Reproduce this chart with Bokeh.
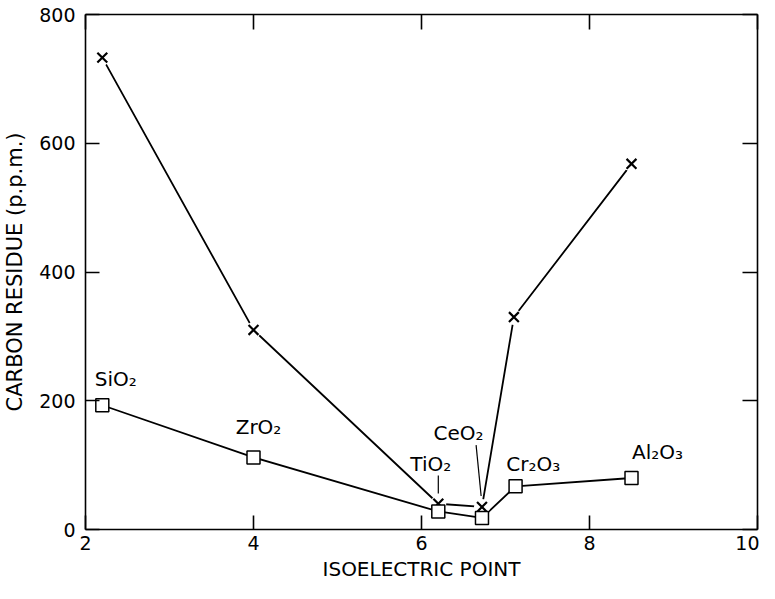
from bokeh.plotting import figure
from bokeh.models import LinearAxis, FixedTicker, Range1d, CustomJSTickFormatter
from bokeh.embed import file_html
from bokeh.resources import INLINE
from bokeh.core.properties import value

# ---- data ----
oxides = ["SiO₂", "ZrO₂", "TiO₂", "CeO₂", "Cr₂O₃", "Al₂O₃"]
iep_cross = [2.2, 4.0, 6.2, 6.72, 7.1, 8.5]
residue_cross = [733, 310, 40, 35, 330, 568]
iep_square = [2.2, 4.0, 6.2, 6.72, 7.12, 8.5]
residue_square = [193, 112, 28, 18, 67, 80]
x_ticks = [2, 4, 6, 8, 10]
y_ticks = [0, 200, 400, 600, 800]

# ---- annotation placement ----
label_x = [2.36, 4.06, 6.11, 6.44, 7.33, 8.81]
label_y = [234, 160, 102, 150, 102, 120]
leader_x0 = [6.2, 6.65]
leader_y0 = [84, 131]
leader_x1 = [6.2, 6.71]
leader_y1 = [56, 52]

FONT = "DejaVu Sans"

p = figure(width=759, height=583, output_backend="svg", toolbar_location=None,
           x_range=Range1d(2, 10), y_range=Range1d(0, 800),
           min_border_left=85, min_border_right=2, min_border_top=14, min_border_bottom=52,
           background_fill_color="white", border_fill_color="white")
p.outline_line_color = None
p.grid.visible = False

def style_axis(ax):
    ax.major_tick_in = 14
    ax.major_tick_out = 0
    ax.minor_tick_in = 0
    ax.minor_tick_out = 0
    ax.axis_line_width = 1.6
    ax.axis_line_color = "black"
    ax.major_tick_line_width = 1.6
    ax.major_tick_line_color = "black"
    ax.major_label_text_font = FONT
    ax.major_label_text_color = "black"
    ax.axis_label_text_font = FONT
    ax.axis_label_text_font_style = "normal"
    ax.axis_label_text_color = "black"

style_axis(p.xaxis[0])
p.xaxis[0].ticker = FixedTicker(ticks=x_ticks)
p.xaxis[0].major_label_text_font_size = "19px"
p.xaxis[0].major_label_standoff = 6
p.xaxis[0].axis_label = "ISOELECTRIC POINT"
p.xaxis[0].axis_label_text_font_size = "20px"
p.xaxis[0].axis_label_standoff = 4

style_axis(p.yaxis[0])
p.yaxis[0].ticker = FixedTicker(ticks=y_ticks)
p.yaxis[0].major_label_text_font_size = "19px"
p.yaxis[0].major_label_standoff = 10
p.yaxis[0].axis_label = "CARBON RESIDUE (p.p.m.)"
p.yaxis[0].axis_label_text_font_size = "21px"
p.yaxis[0].axis_label_standoff = 9

blank = CustomJSTickFormatter(code="return ''")
top = LinearAxis(ticker=FixedTicker(ticks=x_ticks), formatter=blank)
style_axis(top)
top.major_tick_in = 15
top.major_label_text_font_size = "1px"
p.add_layout(top, "above")
right = LinearAxis(ticker=FixedTicker(ticks=y_ticks), formatter=blank)
style_axis(right)
right.major_tick_in = 15
right.major_label_text_font_size = "1px"
p.add_layout(right, "right")

# series lines
p.line(iep_cross, residue_cross, line_color="black", line_width=1.8)
p.line(iep_square, residue_square, line_color="black", line_width=1.8)

# leader lines for labels
p.segment(leader_x0, leader_y0, leader_x1, leader_y1, line_color="black", line_width=1.2)

# cross markers with a small white gap around them
p.scatter(iep_cross, residue_cross, marker="circle", size=16,
          fill_color="white", line_color=None)
p.scatter(iep_cross, residue_cross, marker="x", size=14,
          line_color="black", line_width=2.2)

# square markers
p.scatter(iep_square, residue_square, marker="square", size=13,
          fill_color="white", line_color="black", line_width=1.5)

# oxide labels
p.text(label_x, label_y, text=oxides, text_font=value(FONT), text_font_size="20px",
       text_align="center", text_baseline="middle", text_color="black")

open("out.html", "w").write(file_html(p, INLINE))
